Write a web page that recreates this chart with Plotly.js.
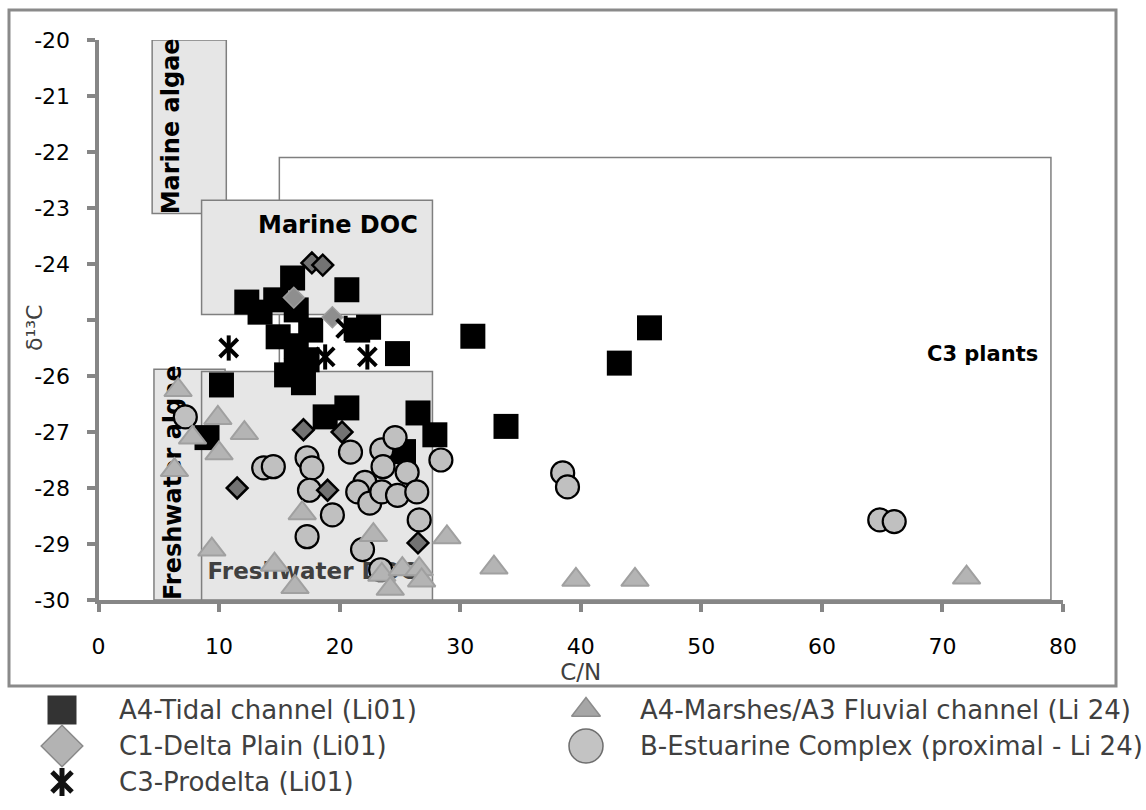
<!DOCTYPE html>
<html>
<head>
<meta charset="utf-8">
<script src="https://cdn.plot.ly/plotly-3.0.1.min.js"></script>
<style>
  html, body { margin: 0; padding: 0; background: #ffffff; }
  #chart { width: 1146px; height: 810px; }
</style>
</head>
<body>
<div id="chart"></div>
<script>
// C/N ratio against bulk δ13C of organic matter, grouped by depositional facies

// A4 - Tidal channel (Li01)
const tidalX = [12.3, 13.4, 14.7, 16.1, 16.4, 20.6, 14.9, 16.4, 17.6, 17.3, 21.5, 22.4, 24.8,
                15.6, 17.0, 16.4, 10.2, 9.0, 18.8, 20.6, 26.5, 27.9, 25.3, 31.05, 33.8, 43.2, 45.7];
const tidalY = [-24.68, -24.86, -24.64, -24.25, -24.82, -24.46, -25.30, -25.46, -25.18, -25.71, -25.18, -25.13, -25.6,
                -25.98, -26.12, -25.9, -26.16, -27.1, -26.73, -26.57, -26.66, -27.05, -27.35, -25.29, -26.9, -25.77, -25.14];

// C1 - Delta plain (Li01): samples drawn with a dark outline, then the paler ones
const deltaX = [17.7, 18.6, 17.0, 20.2, 11.5, 19.0, 26.5];
const deltaY = [-23.98, -24.02, -26.96, -27.0, -28.0, -28.04, -28.98];
const deltaPaleX = [16.2, 19.4];
const deltaPaleY = [-24.6, -24.95];

// C3 - Prodelta (Li01)
const prodeltaX = [10.8, 18.8, 22.3, 20.5];
const prodeltaY = [-25.5, -25.66, -25.66, -25.15];

// A4 - Marshes / A3 Fluvial channel (Li 24)
const marshX = [6.6, 9.9, 12.1, 7.8, 10.0, 6.3, 16.9, 9.4, 14.6, 16.3, 22.8, 28.9,
                23.5, 24.2, 25.2, 26.6, 26.8, 32.8, 39.6, 44.5, 72.0];
const marshY = [-26.25, -26.75, -27.02, -27.1, -27.38, -27.68, -28.45, -29.1, -29.37, -29.77, -28.84, -28.88,
                -29.55, -29.8, -29.45, -29.45, -29.65, -29.42, -29.64, -29.64, -29.6];

// B - Estuarine complex (proximal - Li 24)
const estuarineX = [7.2, 13.7, 14.5, 17.3, 17.7, 17.5, 17.3, 19.4, 20.9, 21.9, 28.4, 26.6,
                    23.5, 24.6, 23.6, 25.6, 22.1, 21.5, 22.5, 23.5, 24.8, 26.4, 23.4,
                    38.5, 38.9, 64.8, 66.0];
const estuarineY = [-26.73, -27.64, -27.62, -27.46, -27.64, -28.04, -28.87, -28.48, -27.36, -29.1, -27.5, -28.57,
                    -27.32, -27.1, -27.62, -27.72, -27.9, -28.07, -28.27, -28.07, -28.13, -28.07, -29.46,
                    -27.73, -27.98, -28.57, -28.6];

// Source end-member fields: [xmin, xmax, ymin, ymax]
const fieldNames = ['C3 plants', 'Marine algae', 'Marine DOC', 'Freshwater algae', 'Freshwater DOC'];
const fieldBounds = [
  [15.0, 79.0, -30, -22.1],
  [4.45, 10.6, -23.1, -20.0],
  [8.55, 27.7, -24.9, -22.86],
  [4.6, 10.5, -30, -25.88],
  [8.55, 27.7, -30, -25.92]
];

const xTicks = [0, 10, 20, 30, 40, 50, 60, 70, 80];
const xTickText = ['0', '10', '20', '30', '40', '50', '60', '70', '80'];
// -25 carries a tick mark only; its label position is taken by the axis title
const yTicks = [-30, -29, -28, -27, -26, -24, -23, -22, -21, -20];
const yTickText = ['-30', '-29', '-28', '-27', '-26', '-24', '-23', '-22', '-21', '-20'];
const yBareTicks = [-25];

const seriesNames = [
  'A4-Tidal channel (Li01)',
  'C1-Delta Plain (Li01)',
  'C3-Prodelta (Li01)',
  'A4-Marshes/A3 Fluvial channel (Li 24)',
  'B-Estuarine Complex (proximal - Li 24)'
];

// ---- page geometry (pixels) ----
const W = 1146, H = 810;
const plotL = 98.5, plotR = 1063, plotT = 40, plotB = 600;
const px = v => v / W;            // pixel x -> paper x
const py = v => 1 - v / H;        // pixel y -> paper y

const AXIS_GREY = '#868686';
const TEXT_GREY = '#404040';

// ---- marker styles ----
const styles = {
  tidal:     { symbol: 'square', size: 25, color: '#000000', line: { width: 0 } },
  estuarine: { symbol: 'circle', size: 23, color: '#c0c0c0', line: { color: '#000000', width: 2.2 } },
  marsh:     { symbol: 'triangle-up', size: 24, color: '#b4b4b4', line: { color: '#a0a0a0', width: 2 } },
  delta:     { symbol: 'diamond', size: 16, color: '#737373', line: { color: '#000000', width: 2.5 } },
  deltaPale: { symbol: 'diamond', size: 16, color: '#8e8e8e', line: { color: '#9c9c9c', width: 1.5 } },
  starBar:   { symbol: 'line-ns-open', size: 18, color: '#000000', line: { color: '#000000', width: 4 } },
  starX:     { symbol: 'x-thin-open', size: 18, color: '#000000', line: { color: '#000000', width: 4 } }
};

function pts(name, x, y, marker) {
  return { type: 'scatter', mode: 'markers', name: name, x: x, y: y,
           marker: marker, cliponaxis: false, showlegend: false, hoverinfo: 'x+y+name',
           xaxis: 'x', yaxis: 'y' };
}

const traces = [
  // label of the freshwater DOC field sits beneath the samples
  { type: 'scatter', mode: 'text', x: [9.05], y: [-29.72], text: ['<b>Freshwater DOC</b>'],
    textposition: 'top right', textfont: { family: 'DejaVu Sans', size: 23, color: TEXT_GREY },
    hoverinfo: 'skip', showlegend: false, cliponaxis: false },
  pts(seriesNames[0], tidalX, tidalY, styles.tidal),
  pts(seriesNames[4], estuarineX, estuarineY, styles.estuarine),
  pts(seriesNames[3], marshX, marshY, styles.marsh),
  pts(seriesNames[1], deltaX, deltaY, styles.delta),
  pts(seriesNames[1], deltaPaleX, deltaPaleY, styles.deltaPale),
  pts(seriesNames[2], prodeltaX, prodeltaY, styles.starBar),
  pts(seriesNames[2], prodeltaX, prodeltaY, styles.starX)
];

// ---- key below the plot: symbols on a pixel-scaled helper axis, names as annotations ----
const keyColX = [62, 586];
const keyTextX = [117, 638];
const keyRowY = [710, 746, 782];
const keyEntries = [
  { name: seriesNames[0], col: 0, row: 0, markers: [{ symbol: 'square', size: 29, color: '#333333', line: { width: 0 } }] },
  { name: seriesNames[1], col: 0, row: 1, markers: [{ symbol: 'diamond', size: 32, color: '#b3b3b3', line: { color: '#8a8a8a', width: 1.5 } }] },
  { name: seriesNames[2], col: 0, row: 2, markers: [
      { symbol: 'line-ns-open', size: 20, color: '#111111', line: { color: '#111111', width: 5 } },
      { symbol: 'x-thin-open', size: 20, color: '#111111', line: { color: '#111111', width: 5 } }] },
  { name: seriesNames[3], col: 1, row: 0, markers: [{ symbol: 'triangle-up', size: 25, color: '#a6a6a6', line: { color: '#8c8c8c', width: 1.5 } }] },
  { name: seriesNames[4], col: 1, row: 1, markers: [{ symbol: 'circle', size: 34, color: '#c3c3c3', line: { color: '#6e6e6e', width: 1.5 } }] }
];

const annotations = [];
keyEntries.forEach(function (e) {
  e.markers.forEach(function (m) {
    traces.push({ type: 'scatter', mode: 'markers', x: [keyColX[e.col]], y: [keyRowY[e.row]],
                  marker: m, xaxis: 'x2', yaxis: 'y2', showlegend: false, hoverinfo: 'skip', cliponaxis: false });
  });
  annotations.push({ xref: 'paper', yref: 'paper', x: px(keyTextX[e.col]), y: py(keyRowY[e.row]),
                     xanchor: 'left', yanchor: 'middle', showarrow: false, text: e.name,
                     font: { family: 'DejaVu Sans', size: 26, color: TEXT_GREY } });
});

// field names that are not covered by samples
annotations.push(
  { xref: 'x', yref: 'y', x: 5.97, y: -23.14, xanchor: 'center', yanchor: 'bottom', textangle: -90,
    showarrow: false, text: '<b>' + fieldNames[1] + '</b>', font: { family: 'DejaVu Sans', size: 24, color: '#000' } },
  { xref: 'x', yref: 'y', x: 26.7, y: -23.3, xanchor: 'right', yanchor: 'middle',
    showarrow: false, text: '<b>' + fieldNames[2] + '</b>', font: { family: 'DejaVu Sans', size: 24, color: '#000' } },
  { xref: 'x', yref: 'y', x: 78.1, y: -25.6, xanchor: 'right', yanchor: 'middle',
    showarrow: false, text: '<b>' + fieldNames[0] + '</b>', font: { family: 'DejaVu Sans', size: 21, color: '#000' } },
  // y-axis title
  { xref: 'paper', yref: 'paper', x: px(34), y: py(328), xanchor: 'center', yanchor: 'middle', textangle: -90,
    showarrow: false, text: 'δ¹³C', font: { family: 'DejaVu Sans', size: 22, color: TEXT_GREY } }
);

// ---- field rectangles ----
const shapes = [
  // chart frame
  { type: 'rect', xref: 'paper', yref: 'paper', x0: px(9), x1: px(1116), y0: py(686), y1: py(10),
    line: { color: '#8a8a8a', width: 3 }, fillcolor: 'rgba(0,0,0,0)', layer: 'below' }
];
fieldBounds.forEach(function (b, i) {
  const s = { type: 'rect', xref: 'x', yref: 'y', x0: b[0], x1: b[1], y0: b[2], y1: b[3], layer: 'below',
              line: { color: '#7f7f7f', width: 1.5 }, fillcolor: i === 0 ? '#ffffff' : '#e6e6e6' };
  if (i === 3) {
    s.label = { text: '<b>' + fieldNames[3] + '</b>', textangle: -90, textposition: 'bottom left',
                xanchor: 'left', yanchor: 'top', padding: 0,
                font: { family: 'DejaVu Sans', size: 24, color: '#000' } };
  }
  shapes.push(s);
});

const axisCommon = {
  showline: true, linecolor: AXIS_GREY, linewidth: 4, mirror: false,
  ticks: 'outside', ticklen: 8, tickwidth: 4, tickcolor: AXIS_GREY,
  showgrid: false, zeroline: false, fixedrange: true,
  tickfont: { family: 'DejaVu Sans', size: 22, color: '#000000' }
};

const layout = {
  width: W, height: H,
  margin: { l: 0, r: 0, t: 0, b: 0 },
  paper_bgcolor: '#ffffff', plot_bgcolor: '#ffffff',
  showlegend: false,
  xaxis: Object.assign({}, axisCommon, {
    domain: [px(plotL), px(plotR)], range: [0, 80], anchor: 'y',
    tickmode: 'array', tickvals: xTicks, ticktext: xTickText, ticklabelstandoff: 16,
    title: { text: 'C/N', standoff: 0, font: { family: 'DejaVu Sans', size: 23, color: TEXT_GREY } }
  }),
  yaxis: Object.assign({}, axisCommon, {
    domain: [py(plotB), py(plotT)], range: [-30, -20], anchor: 'x',
    tickmode: 'array', tickvals: yTicks, ticktext: yTickText, ticklabelstandoff: 12,
    minor: { tickmode: 'array', tickvals: yBareTicks, ticks: 'outside', ticklen: 8, tickwidth: 4,
             tickcolor: AXIS_GREY, showgrid: false }
  }),
  xaxis2: { domain: [0, 1], range: [0, W], anchor: 'y2', visible: false, fixedrange: true },
  yaxis2: { domain: [0, py(648)], range: [H, 648], anchor: 'x2', visible: false, fixedrange: true },
  shapes: shapes,
  annotations: annotations,
  hovermode: 'closest'
};

Plotly.newPlot('chart', traces, layout, { displayModeBar: false, responsive: false });
</script>
</body>
</html>
